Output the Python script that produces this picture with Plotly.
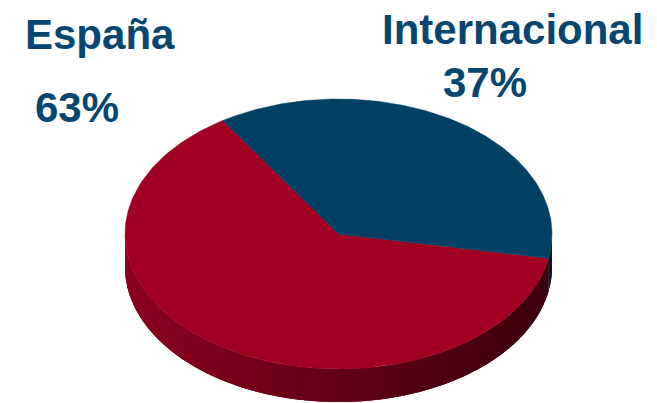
import numpy as np
import plotly.graph_objects as go

labels = ["España", "Internacional"]
values = [63, 37]
pct_text = ["63%", "37%"]
top_colors = ["#A20022", "#004163"]
side_left = [(140, 0, 32), (12, 40, 60)]
side_right = [(58, 0, 14), (8, 24, 36)]

W, H = 657, 403
cx, cy, a, b, depth = 338.5, 234.0, 213.5, 135.0, 33.0
start_deg = 122.8

fr = np.array(values) / sum(values)
bounds = [start_deg]
for f in fr:
    bounds.append(bounds[-1] + 360 * f)


def ex(t):
    return cx + a * np.cos(np.radians(t))


def ey(t):
    return cy - b * np.sin(np.radians(t))


fig = go.Figure()

# side (front half) drawn as overlapping gradient strips
for i in range(len(values)):
    t0, t1 = bounds[i], bounds[i + 1]
    for off in (0, 360, -360):
        lo = max(t0, 180 + off)
        hi = min(t1, 360 + off)
        if hi <= lo:
            continue
        n = max(2, int((hi - lo) / 1.0) + 1)
        ts = np.linspace(lo, hi, n + 1)
        step = ts[1] - ts[0]
        for k in range(n):
            ta = ts[k]
            tb = min(ts[k + 1] + 1.5 * step, hi)
            xm = ex(ts[k] + step / 2)
            u = (xm - (cx - a)) / (2 * a)
            u = min(max(u, 0), 1)
            c = [int(side_left[i][j] + (side_right[i][j] - side_left[i][j]) * u) for j in range(3)]
            col = "rgb(%d,%d,%d)" % tuple(c)
            tt = np.linspace(ta, tb, 5)
            xs = list(ex(tt)) + list(ex(tt[::-1]))
            ys = list(ey(tt)) + list(ey(tt[::-1]) + depth)
            fig.add_trace(go.Scatter(x=xs, y=ys, mode="lines", fill="toself",
                                     fillcolor=col, line=dict(width=0),
                                     hoverinfo="skip", showlegend=False))

# top face slices
for i in range(len(values)):
    t0, t1 = bounds[i], bounds[i + 1]
    tt = np.linspace(t0, t1, 200)
    xs = [cx] + list(ex(tt)) + [cx]
    ys = [cy] + list(ey(tt)) + [cy]
    fig.add_trace(go.Scatter(x=xs, y=ys, mode="lines", fill="toself",
                             fillcolor=top_colors[i], line=dict(color=top_colors[i], width=0.5),
                             hoverinfo="skip", showlegend=False, name=labels[i]))

txt_color = "#064670"
font = dict(family="Liberation Sans, Arial, sans-serif", size=42, color=txt_color)
label_pos = [(99.5, 34), (512, 29)]
pct_pos = [(76.5, 107), (485, 82)]
for i in range(len(values)):
    fig.add_annotation(x=label_pos[i][0], y=label_pos[i][1], text="<b>%s</b>" % labels[i],
                       showarrow=False, xanchor="center", yanchor="middle", font=font)
    fig.add_annotation(x=pct_pos[i][0], y=pct_pos[i][1], text="<b>%s</b>" % pct_text[i],
                       showarrow=False, xanchor="center", yanchor="middle", font=font)

fig.update_layout(
    width=W, height=H, margin=dict(l=0, r=0, t=0, b=0),
    paper_bgcolor="white", plot_bgcolor="white",
    xaxis=dict(range=[0, W], visible=False, fixedrange=True),
    yaxis=dict(range=[H, 0], visible=False, fixedrange=True),
    showlegend=False,
)
fig.write_html("out.html")
